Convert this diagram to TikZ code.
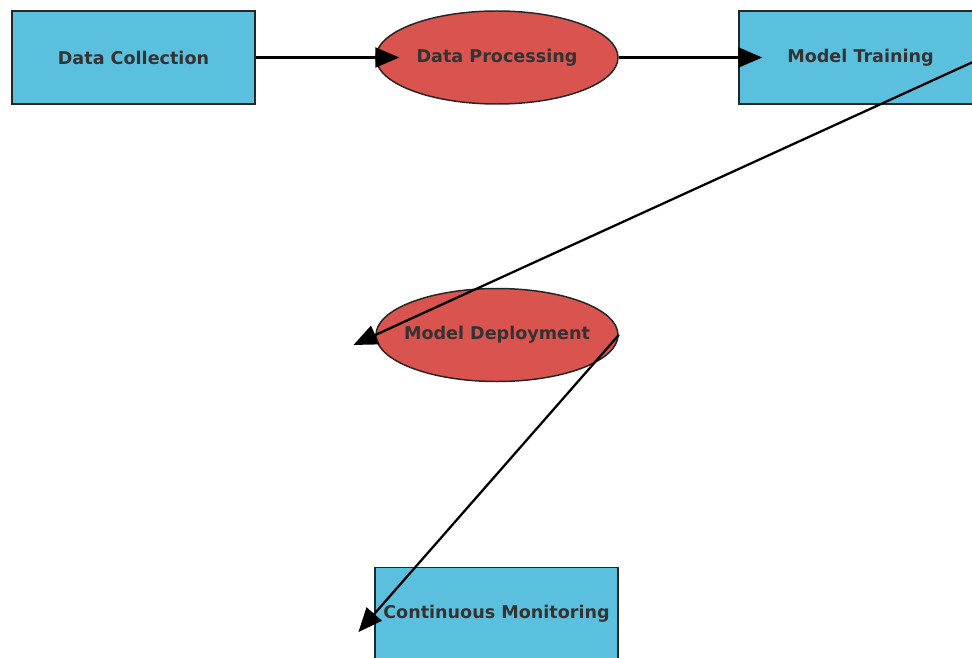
\documentclass[tikz,border=0pt]{standalone}
\usepackage{fontspec}
\setmainfont{DejaVu Sans}
\usetikzlibrary{arrows.meta, shapes.geometric}
\definecolor{boxblue}{HTML}{5BC0DE}
\definecolor{ovalred}{HTML}{D9534F}
\definecolor{labelgray}{HTML}{333333}

\begin{document}
\begin{tikzpicture}[
    stage/.style={rectangle, draw=black!85, line width=0.85pt, fill=boxblue, minimum width=4.86cm, minimum height=1.86cm, inner sep=0pt, text=labelgray, font=\bfseries},
    process/.style={ellipse, draw=black!85, line width=0.85pt, fill=ovalred, minimum width=4.84cm, minimum height=1.86cm, inner sep=0pt},
    flow/.style={-{Triangle[length=0.48cm, width=0.4cm]}, line width=1.3pt, shorten >=-0.48cm}]

    \useasboundingbox (0,0) rectangle (19.44,-13.14);
    \clip (0,0) rectangle (19.44,-13.14);

    \node[stage] (collect) at (2.67,-1.15) {Data Collection};
    \node[process, label={[text=labelgray, font=\bfseries]center:Data Processing}] (proc) at (9.94,-1.15) {};
    \node[stage] (train) at (17.21,-1.15) {Model Training};
    \node[process, label={[text=labelgray, font=\bfseries]center:Model Deployment}] (deploy) at (9.94,-6.70) {};
    \node[stage] (monitor) at (9.93,-12.28) {Continuous Monitoring};

    \draw[flow] (collect.east) -- (proc.west);
    \draw[flow] (proc.east) -- (train.west);
    \draw[flow] (train.east) -- (deploy.west);
    \draw[flow] (deploy.east) -- (monitor.west);
  \end{tikzpicture}
\end{document}
